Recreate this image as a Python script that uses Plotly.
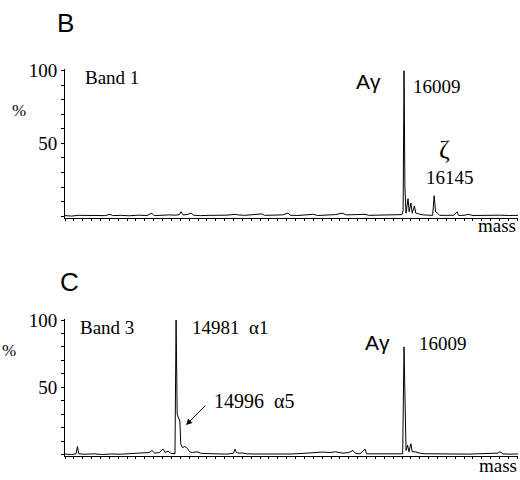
import plotly.graph_objects as go

# ---- data ----
b_mass = [14480, 14510, 14540, 14580, 14620, 14660, 14683, 14695, 14730, 14770, 14810, 14850, 14872, 14882,
          14910, 14950, 14980, 14995, 15003, 15012, 15030, 15048, 15060, 15090, 15130, 15170, 15210, 15247,
          15260, 15290, 15330, 15369, 15380, 15420, 15460, 15486, 15495, 15530, 15570, 15599, 15620, 15660,
          15700, 15729, 15750, 15790, 15833, 15850, 15890, 15930, 15970, 16000, 16005, 16009, 16013, 16018,
          16027, 16032, 16040, 16046, 16056, 16062, 16075, 16095, 16120, 16138, 16145, 16151, 16160, 16170,
          16200, 16235, 16248, 16255, 16280, 16298, 16320, 16360, 16400, 16440, 16480, 16523]
b_int = [0.3, 0, 0.5, 0.2, 0.4, 0.3, 1.2, 0.3, 0.5, 0.2, 0.6, 0.4, 2, 0.3,
         0.6, 0.8, 0.6, 1, 3, 0.8, 1, 2, 0.6, 0.3, 0.5, 0.3, 0.6, 1.2,
         0.8, 0.5, 0.8, 1.5, 0.5, 0.6, 0.8, 2, 0.6, 0.4, 0.6, 1.2, 0.4, 0.6,
         1, 2, 0.8, 1, 1.2, 0.5, 0.6, 0.8, 0.5, 1, 4, 100, 20, 2,
         12, 3, 9, 2, 7, 2, 1.5, 0.8, 0.6, 0.5, 14, 3, 2, 0.5,
         0.5, 0.6, 3, 0.5, 0.5, 1.2, 0.4, 0.6, 0.5, 0.6, 0.4, 0.5]

c_mass = [14480, 14510, 14530, 14536, 14542, 14570, 14610, 14650, 14690, 14730, 14770, 14810, 14840, 14860,
          14872, 14885, 14905, 14922, 14932, 14945, 14955, 14970, 14976, 14981, 14986, 14990, 14994, 14998,
          15002, 15010, 15018, 15026, 15034, 15042, 15055, 15075, 15095, 15130, 15170, 15210, 15240, 15247,
          15253, 15265, 15278, 15300, 15340, 15380, 15420, 15460, 15500, 15550, 15600, 15640, 15675, 15700,
          15734, 15760, 15779, 15790, 15810, 15833, 15840, 15870, 15900, 15940, 15970, 15995, 16003, 16009,
          16014, 16018, 16025, 16031, 16040, 16046, 16060, 16080, 16100, 16140, 16180, 16220, 16260, 16300,
          16350, 16400, 16430, 16442, 16455, 16480, 16523]
c_int = [0.3, 0, 0.5, 6, 0.5, 0.2, 0.5, 0, 0.4, 0.2, 0.6, 0.8, 1, 1.5,
         3, 1, 1.5, 4, 1.5, 2.5, 1, 1, 0.5, 100, 30, 28, 27, 25,
         8, 5, 6, 5.5, 4, 2, 1.5, 2, 0.8, 0.5, 0.6, 0.3, 1, 4,
         1.5, 1, 1.2, 0.5, 0.4, 0.3, 0.6, 0.5, 0.4, 0.8, 1.5, 1.8, 1.5, 2,
         1, 1.5, 3, 0.8, 0.5, 4, 0.5, 0.5, 0.8, 0.6, 1, 0.8, 0.5, 80,
         20, 3, 7, 2, 8, 2, 2, 1, 0.6, 0.5, 0.6, 0.4, 0.5, 0.3,
         0.6, 0.5, 1, 2, 0.5, 0.3, 0.4]

y_tickvals = [0, 10, 20, 30, 40, 50, 60, 70, 80, 90, 100]
y_ticktext = ["", "", "", "", "", "50", "", "", "", "", "100"]
mass_range = [14480, 16523]

W, H = 520, 480
def px(x):
    return x / W
def py(y):
    return 1 - y / H

SERIF = "Liberation Serif"
SANS = "Liberation Sans"

fig = go.Figure()
fig.add_trace(go.Scatter(x=b_mass, y=b_int, mode="lines", line=dict(color="black", width=1),
                         xaxis="x", yaxis="y", showlegend=False, hoverinfo="skip"))
fig.add_trace(go.Scatter(x=c_mass, y=c_int, mode="lines", line=dict(color="black", width=1),
                         xaxis="x2", yaxis="y2", showlegend=False, hoverinfo="skip"))

xa = dict(range=mass_range, showgrid=False, zeroline=False, showline=True, linecolor="black", linewidth=1,
          ticks="outside", ticklen=2, tickcolor="black", tick0=14480, dtick=40, showticklabels=False)
ya = dict(range=[-1, 101], showgrid=False, zeroline=False, showline=True, linecolor="black", linewidth=1,
          ticks="outside", ticklen=3, tickcolor="black", tickmode="array", tickvals=y_tickvals,
          ticktext=y_ticktext, tickfont=dict(family=SERIF, size=19, color="black"))

fig.update_layout(
    width=W, height=H, margin=dict(l=0, r=0, t=0, b=0), autosize=False,
    paper_bgcolor="white", plot_bgcolor="white",
    xaxis=dict(xa, domain=[px(65), px(518)], anchor="y"),
    yaxis=dict(ya, domain=[py(212.5), py(61.5)], anchor="x"),
    xaxis2=dict(xa, domain=[px(65), px(518)], anchor="y2"),
    yaxis2=dict(ya, domain=[py(455.4), py(315.6)], anchor="x2"),
)

def txt(x, y, s, size=19, family=SERIF, xanchor="center"):
    fig.add_annotation(x=px(x), y=py(y), xref="paper", yref="paper", text=s, showarrow=False,
                       xanchor=xanchor, yanchor="middle", font=dict(family=family, size=size, color="black"))

# panel B
txt(65, 14, "B", size=26, family=SANS)
txt(19, 103, "%", size=17)
txt(83, 70, "Band 1", xanchor="left")
txt(368, 74, "Aγ", size=21, family=SANS)
txt(437, 79, "16009")
txt(444, 143, "ζ", size=26)
txt(450, 172, "16145")
txt(518, 221, "mass", xanchor="right")

# panel C
txt(69, 278, "C", size=26, family=SANS)
txt(9, 348, "%", size=17)
txt(78, 325, "Band 3", xanchor="left")
txt(190, 325, "14981  α1", xanchor="left")
txt(212, 399, "14996  α5", size=20, xanchor="left")
txt(377, 340, "Aγ", size=21, family=SANS)
txt(443, 341, "16009")
txt(519, 465, "mass", xanchor="right")

fig.add_annotation(x=px(186), y=py(424), xref="paper", yref="paper", ax=21, ay=-21, axref="pixel", ayref="pixel",
                   showarrow=True, arrowhead=2, arrowsize=1.2, arrowwidth=1, arrowcolor="black", text="")

post = ("document.documentElement.style.margin='0';document.documentElement.style.padding='0';"
        "document.body.style.margin='0';document.body.style.padding='0';document.body.style.overflow='hidden';"
        "var d=document.getElementById('{plot_id}');d.style.position='fixed';d.style.top='0px';d.style.left='0px';")
fig.write_html("out.html", config={"displayModeBar": False}, post_script=post)
